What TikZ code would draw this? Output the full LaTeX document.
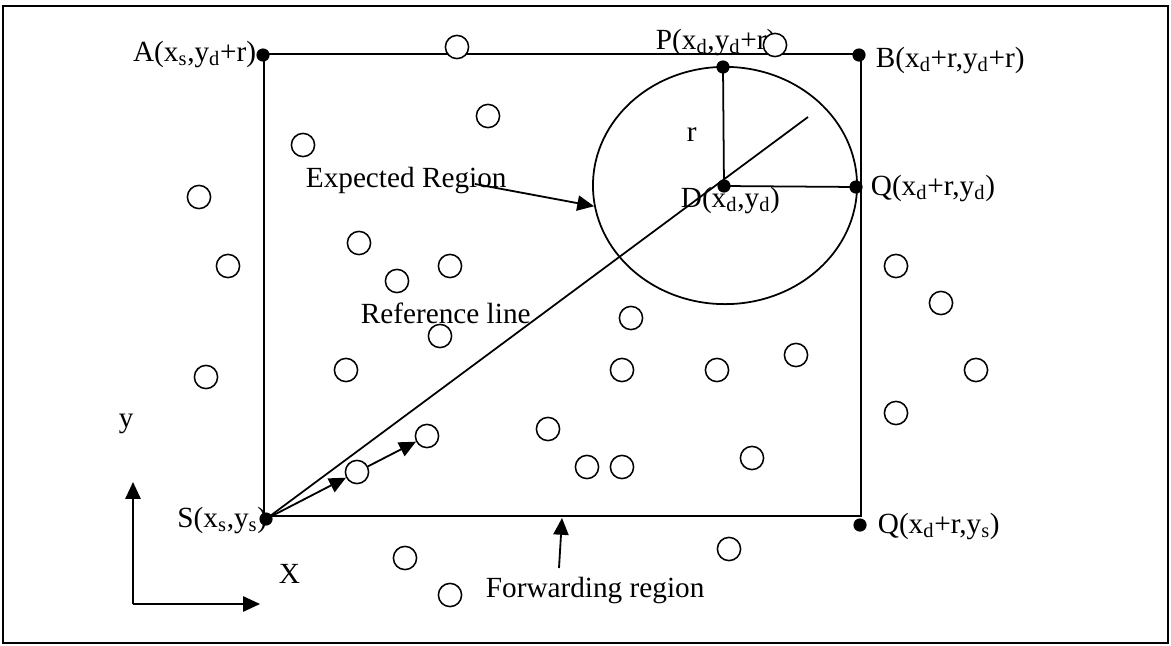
\documentclass[tikz,border=0pt]{standalone}
\usepackage{fontspec}
\setmainfont{Liberation Serif}
\usetikzlibrary{arrows.meta,shapes.geometric}

\begin{document}
\begin{tikzpicture}[
  x=0.025cm, y=-0.025cm,
  line width=1.25pt,
  font=\fontsize{20.8}{25}\selectfont,
  nd/.style={draw, circle, fill=white, minimum size=0.58cm, inner sep=0pt, line width=1.1pt},
  dot/.style={circle, fill=black, minimum width=0.33cm, minimum height=0.27cm, inner sep=0pt},
  lbl/.style={inner sep=0pt},
  flow/.style={-{Triangle[length=0.42cm, width=0.38cm]}, line width=1.3pt},
]

\useasboundingbox (0,0) rectangle (1171,645);
\draw[line width=0.9pt] (3,6) rectangle (1168,643);

% ---------------- forwarding region + expected region ----------------
\coordinate (rSW) at (264,516);
\coordinate (rNE) at (861,54);
\draw (rSW) rectangle (rNE);
\node[draw, ellipse, minimum width=6.6cm, minimum height=5.93cm, inner sep=0pt] (er) at (725,185.5) {};

% corner / centre points
\node[dot] (A)  at (263,55)  {};
\node[dot] (B)  at (859,55)  {};
\node[dot] (P)  at (723,67)  {};
\node[dot] (D)  at (724,186) {};
\node[dot] (Q)  at (856,187) {};
\node[dot] (S)  at (266,519) {};
\node[dot] (Qs) at (860,525) {};

% radius lines and reference line
\draw (P.center) -- (D.center) -- (Q.center);
\coordinate (refEnd) at (808,117);
\draw (S.center) -- (refEnd);

% ---------------- labels ----------------
\node[lbl, anchor=base east] (Alab) at (257,61) {A(x\textsubscript{s},y\textsubscript{d}+r)};
\node[lbl, anchor=base west] (Plab) at (655,49) {P(x\textsubscript{d},y\textsubscript{d}+r)};
\node[lbl, anchor=base west] (Blab) at (875,67) {B(x\textsubscript{d}+r,y\textsubscript{d}+r)};
\node[lbl, anchor=base west] (rlab) at (686,141) {r};
\node[lbl, anchor=base west] (Dlab) at (680,207) {D(x\textsubscript{d},y\textsubscript{d})};
\node[lbl, anchor=base west] (Qlab) at (870,195) {Q(x\textsubscript{d}+r,y\textsubscript{d})};
\node[lbl, anchor=base east] (Slab) at (268,527) {S(x\textsubscript{s},y\textsubscript{s})};
\node[lbl, anchor=base west] (Qslab) at (877,533) {Q(x\textsubscript{d}+r,y\textsubscript{s})};
\node[lbl, anchor=base west] (expreg) at (305,187) {Expected Region};
\node[lbl, anchor=base west] (refline) at (360,323) {Reference line};
\node[lbl, anchor=base west] (fwd) at (485,597) {Forwarding region};
\node[lbl, anchor=base west] (xlab) at (278,583) {X};
\node[lbl, anchor=base west] (ylab) at (118,427) {y};

% ---------------- sensor nodes ----------------
\foreach \x/\y [count=\i] in {457/47, 775/45, 488/116, 303/145, 199/197, 359/243,
    450/266, 397/281, 228/266, 440/336, 346/370, 206/377, 631/318, 622/370,
    548/429, 587/467, 622/467, 717/370, 796/355, 752/458, 941/303, 976/370,
    896/413, 896/266, 405/558, 450/595, 729/549}
  \node[nd] (n\i) at (\x,\y) {};
\node[nd] (h1) at (357,472) {};
\node[nd] (h2) at (427,436) {};

% ---------------- arrows ----------------
\draw[flow] (S) -- (h1);
\draw[flow] (h1) -- (h2);
\coordinate (erTail) at (475,184);
\draw[flow] (erTail) -- (er.189);
\coordinate (fwTail) at (559,568);
\coordinate (fwTip) at (562,518);
\draw[flow] (fwTail) -- (fwTip);

% axes
\coordinate (org) at (133,604);
\coordinate (yTip) at (133,482);
\coordinate (xTip) at (260,604);
\draw[flow] (org) -- (yTip);
\draw[flow] (org) -- (xTip);

\end{tikzpicture}
\end{document}
